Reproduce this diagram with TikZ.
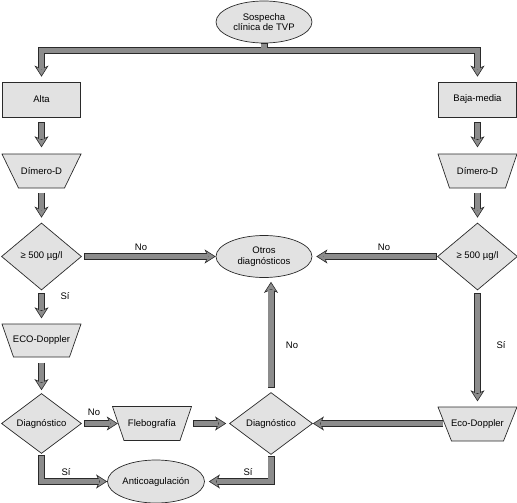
\documentclass[tikz,border=0pt]{standalone}
\usepackage{fontspec}
\setmainfont{Liberation Sans}
\usetikzlibrary{shapes.geometric,arrows.meta}
\definecolor{nfill}{HTML}{E2E2E2}
\definecolor{agray}{HTML}{8C8C8C}
\definecolor{edgec}{HTML}{2A2A2A}
\begin{document}
\begin{tikzpicture}[x=1pt,y=-1pt,
  every node/.style={font=\fontsize{9.5}{10.5}\selectfont, text=black},
  base/.style={draw=edgec, fill=nfill, line width=0.7pt, inner sep=0pt, align=center},
  oval/.style={base, shape=ellipse, minimum width=96pt, minimum height=42pt},
  box/.style={base, shape=rectangle, minimum width=78pt, minimum height=35pt},
  trapinset/.store in=\trapinset, trapinset=12pt,
  trap/.style={shape=rectangle, inner sep=0pt, minimum width=80pt, minimum height=35pt,
    path picture={\draw[draw=edgec, fill=nfill, line width=0.7pt]
      ([xshift=0.5pt,yshift=-0.5pt]path picture bounding box.north west) --
      ([xshift=-0.5pt,yshift=-0.5pt]path picture bounding box.north east) --
      ([xshift=-\trapinset,yshift=0.5pt]path picture bounding box.south east) --
      ([xshift=\trapinset,yshift=0.5pt]path picture bounding box.south west) -- cycle;}},
  dia/.style={base, shape=diamond, minimum width=80pt, minimum height=67pt},
  >={Stealth[length=11pt,width=14pt,inset=3pt,line width=0.6pt,fill=agray]},
  conn/.style={draw=edgec, line width=7pt, ->,
    postaction={draw=agray, line width=5.6pt, -, shorten >=8pt, shorten <=0.7pt}},
  conntwo/.style={draw=edgec, line width=7pt, <->,
    postaction={draw=agray, line width=5.6pt, -, shorten >=8pt, shorten <=8pt}},
  lbl/.style={inner sep=0pt}
]
\useasboundingbox (0,0) rectangle (517,503);

% nodes
\node[oval] (sosp) at (264,22) {Sospecha\\clínica de TVP};
\node[box] (alta) at (41.5,99.5) {Alta};
\node[box] (baja) at (477.5,99.5) {Baja-media};
\node[trap, trapinset=17pt] (dimL) at (41.5,171) {Dímero-D};
\node[trap, trapinset=12pt] (dimR) at (477.5,171) {Dímero-D};
\node[dia] (gL) at (41.5,256.5) {≥ 500 µg/l};
\node[dia] (gR) at (477.5,256.5) {≥ 500 µg/l};
\node[oval] (otros) at (264,256.5) {Otros\\diagnósticos};
\node[trap, minimum height=34pt, trapinset=12pt] (ecoL) at (41.5,340.5) {ECO-Doppler};
\node[dia, minimum height=60pt] (diagL) at (41.5,423.5) {Diagnóstico};
\node[trap, trapinset=12pt] (fleb) at (152,423.5) {Flebografía};
\node[dia, minimum width=83pt, minimum height=62pt] (diagC) at (271,423.5) {Diagnóstico};
\node[trap, trapinset=14pt] (ecoR) at (477.5,424) {Eco-Doppler};
\node[oval, minimum width=97pt, minimum height=43pt] (anti) at (156,481.5) {Anticoagulación};

% connectors
\coordinate (j) at (264,50.5);
\draw[conntwo] ([yshift=5pt]alta.north) |- (j) -| ([yshift=5pt]baja.north);
\draw[draw=edgec, line width=7pt] (sosp.south) -- ([yshift=3.5pt]j);
\draw[draw=agray, line width=5.6pt] ([yshift=-0.7pt]sosp.south) -- (j);

\draw[conn] ([yshift=-5pt]alta.south) -- ([yshift=6pt]dimL.north);
\draw[conn] ([yshift=-5pt]baja.south) -- ([yshift=6pt]dimR.north);
\draw[conn] ([yshift=-4pt]dimL.south) -- ([yshift=5pt]gL.north);
\draw[conn] ([yshift=-4pt]dimR.south) -- ([yshift=5pt]gR.north);
\draw[conn] ([xshift=2pt]gL.east) -- (otros.west);
\draw[conn] (gR.west) -- ([xshift=4pt]otros.east);
\draw[conn] ([yshift=-3pt]gL.south) -- ([yshift=5pt]ecoL.north);
\draw[conn] ([yshift=-3pt]gR.south) -- ([yshift=5pt]ecoR.north);
\draw[conn] ([yshift=-5pt]ecoL.south) -- ([yshift=3pt]diagL.north);
\draw[conn] ([xshift=2pt]diagL.east) -- ([xshift=6pt]fleb.west);
\draw[conn] ([xshift=1pt]fleb.east) -- ([xshift=-3pt]diagC.west);
\draw[conn] ([xshift=6pt,yshift=0.5pt]ecoR.west) -- (diagC.east);
\draw[conn] ([yshift=4pt]diagC.north) -- ([yshift=-4pt]diagC.north |- otros.south);
\draw[conn] ([yshift=-1pt]diagL.south) |- (anti.west);
\draw[conn] ([yshift=-1pt]diagC.south) |- ([xshift=4pt]anti.east);

% labels
\node[lbl] (l1) at (141,247.5) {No};
\node[lbl] (l2) at (384,247.5) {No};
\node[lbl] (l3) at (65,296.5) {Sí};
\node[lbl] (l4) at (501,345) {Sí};
\node[lbl] (l5) at (292,345) {No};
\node[lbl] (l6) at (94,412.5) {No};
\node[lbl] (l7) at (66,472) {Sí};
\node[lbl] (l8) at (248,472) {Sí};
\end{tikzpicture}
\end{document}
